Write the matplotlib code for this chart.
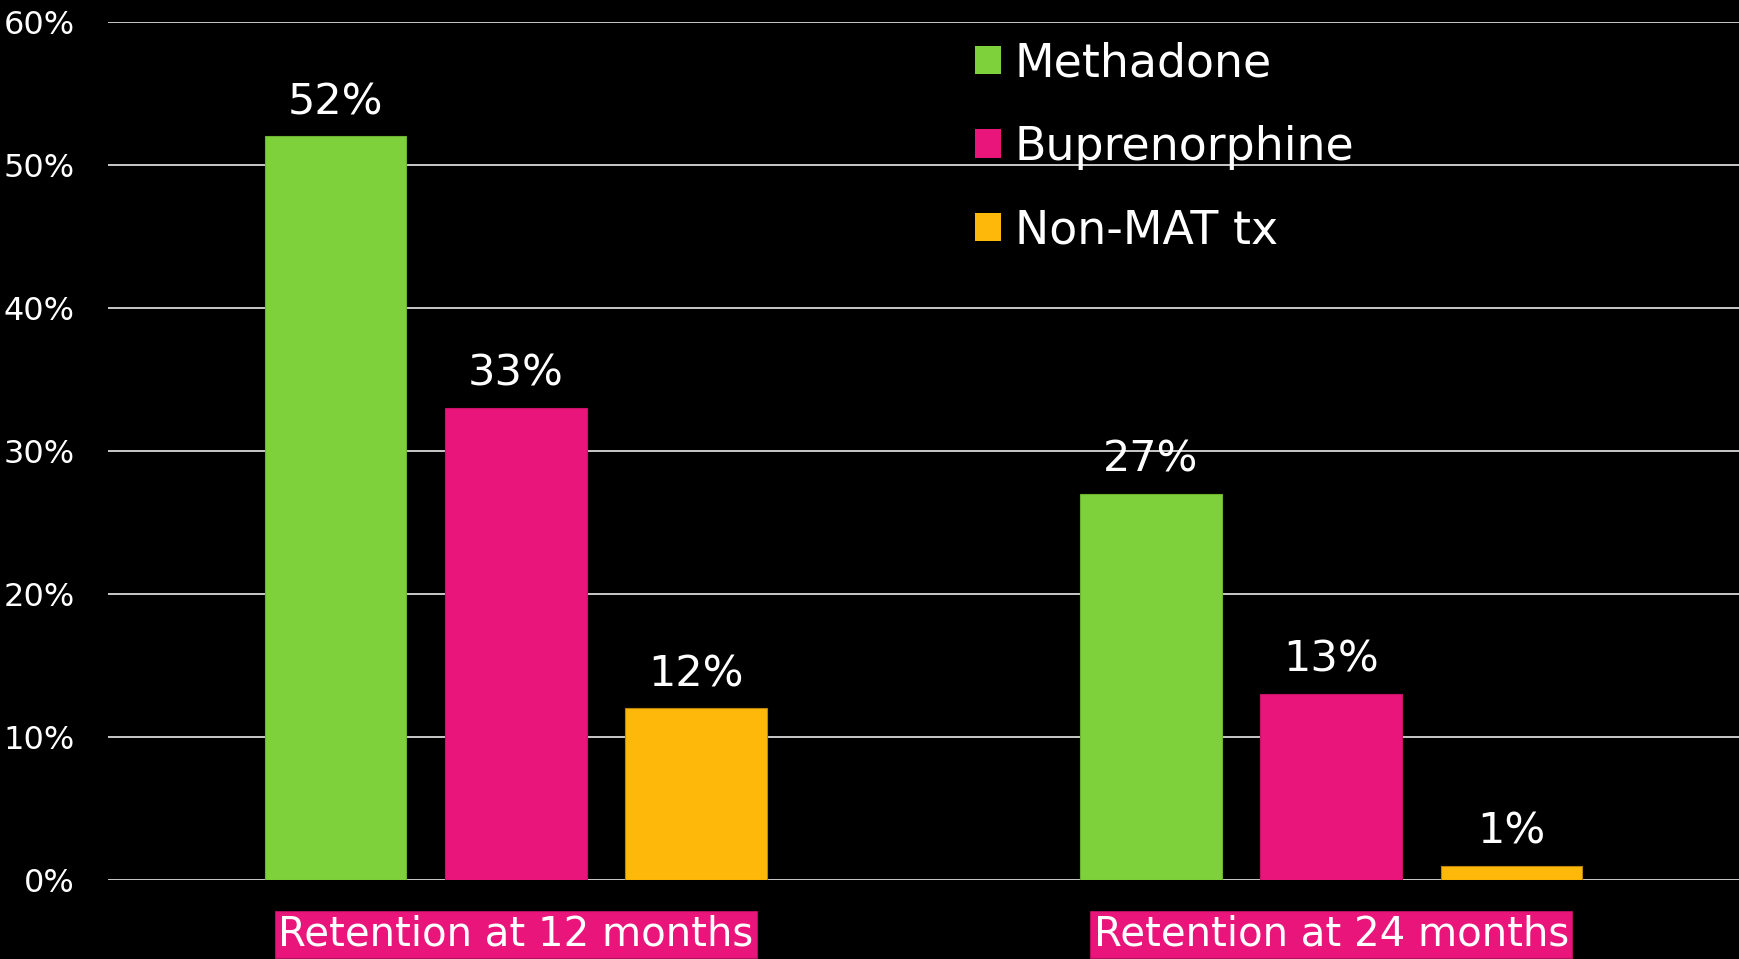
import numpy as np
import matplotlib.pyplot as plt
from matplotlib.patches import Patch

# retention by treatment arm
groups = ["Retention at 12 months", "Retention at 24 months"]
series = ["Methadone", "Buprenorphine", "Non-MAT tx"]
methadone = [52, 27]
buprenorphine = [33, 13]
non_mat = [12, 1]
values = [methadone, buprenorphine, non_mat]
colors = ["#7FD13B", "#EA157A", "#FEB80A"]
edges = ["#6cb332", "#c81268", "#b8860b"]
yticks = [0, 10, 20, 30, 40, 50, 60]

plt.rcParams["font.family"] = ["DejaVu Sans"]

fig = plt.figure(figsize=(17.39, 9.59), dpi=100, facecolor="black")
ax = fig.add_axes([0.0621, 0.0824, 0.9379, 0.8946])
ax.set_facecolor("black")

x = np.arange(len(groups))
width = 0.174
step = 0.221

for i, (vals, c, ec) in enumerate(zip(values, colors, edges)):
    pos = x + (i - 1) * step
    bars = ax.bar(pos, vals, width, color=c, edgecolor=ec, linewidth=0.8,
                  label=series[i], zorder=3)
    for b, v in zip(bars, vals):
        ax.annotate(f"{v}%", (b.get_x() + b.get_width() / 2, v),
                    xytext=(0, 16), textcoords="offset points",
                    ha="center", va="baseline", color="white", fontsize=31)

ax.set_xlim(-0.5, 1.5)
ax.set_ylim(0, 60)
ax.set_yticks(yticks)
ax.set_yticklabels([f"{t}%" for t in yticks], color="white", fontsize=23)
ax.yaxis.grid(True, color="#d9d9d9", linewidth=1.3, zorder=0)
ax.tick_params(axis="y", length=0, pad=24)

ax.set_xticks(x)
ax.set_xticklabels(groups, color="white", fontsize=29)
ax.tick_params(axis="x", length=0, pad=25)
for lab in ax.get_xticklabels():
    lab.set_bbox(dict(boxstyle="square,pad=0.08", facecolor="#EA157A",
                      edgecolor="#b0105c", linewidth=0.8))

for s in ax.spines.values():
    s.set_visible(False)

handles = [Patch(facecolor=c, edgecolor="none") for c in colors]
leg = ax.legend(handles, series, loc="upper left",
                bbox_to_anchor=(0.5607, 0.957), bbox_transform=fig.transFigure,
                frameon=False, fontsize=33, handlelength=0.57, handleheight=0.57,
                handletextpad=0.3, labelspacing=0.84, borderpad=0,
                borderaxespad=0)
for t in leg.get_texts():
    t.set_color("white")

fig.savefig("out.png", dpi=100, facecolor="black")
